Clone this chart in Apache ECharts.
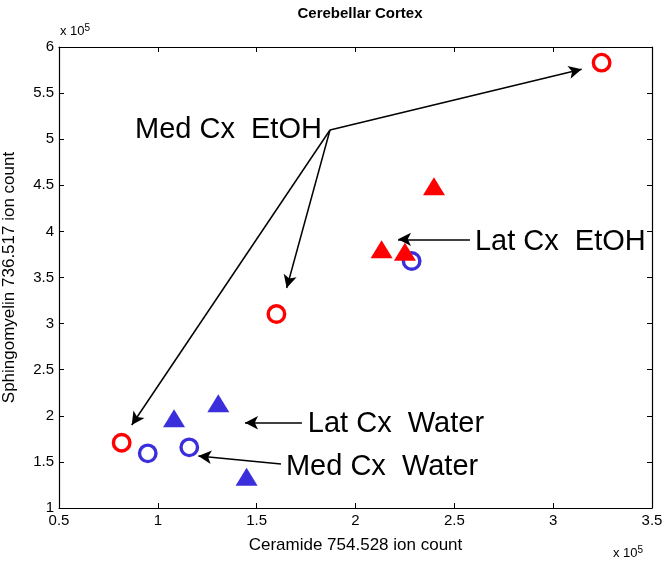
<!DOCTYPE html>
<html><head><meta charset="utf-8">
<script src="https://cdn.jsdelivr.net/npm/echarts@6/dist/echarts.min.js"></script>
<style>html,body{margin:0;padding:0;background:#fff}#c{width:666px;height:565px}</style>
</head><body><div id="c"></div>
<script>
// Data (ion counts)
const medEtohX = [324500, 160000, 81700];
const medEtohY = [583000, 310400, 170800];
const latEtohX = [239700, 213200, 225000];
const latEtohY = [449000, 380600, 378000];
const medWaterX = [94900, 115900, 228400];
const medWaterY = [159300, 165800, 367900];
const latWaterX = [108200, 130600, 144900];
const latWaterY = [197300, 213500, 134000];
const xTicks = [0.5, 1, 1.5, 2, 2.5, 3, 3.5];
const yTicks = [1, 1.5, 2, 2.5, 3, 3.5, 4, 4.5, 5, 5.5, 6];

// Annotation anchors in data units
const hub = [187100, 510000];
const medEtohTips = [[314400, 575800], [165200, 338600], [86800, 190000]];
const latEtohArrow = [[257900, 391400], [221500, 391400]];
const latWaterArrow = [[172900, 192500], [144100, 192500]];
const medWaterArrow = [[162300, 147700], [120500, 156400]];
const labels = [
  {text: 'Med Cx  EtOH', at: [183000, 510000], align: 'right'},
  {text: 'Lat Cx  EtOH', at: [260400, 388500], align: 'left'},
  {text: 'Lat Cx  Water', at: [175900, 191500], align: 'left'},
  {text: 'Med Cx  Water', at: [164800, 144500], align: 'left'}
];

const RED = '#ff0000', BLUE = '#3b2fdc';
const F = 'Liberation Sans';
const zip = (a, b) => a.map((v, i) => [v, b[i]]);

const arrowLines = [];
medEtohTips.forEach(t => arrowLines.push([{coord: hub}, {coord: t}]));
[latEtohArrow, latWaterArrow, medWaterArrow].forEach(a => arrowLines.push([{coord: a[0]}, {coord: a[1]}]));

const axBase = {
  interval: 50000,
  axisLine: {show: true, onZero: false, lineStyle: {color: '#000', width: 1.2}},
  axisTick: {show: true, inside: true, length: 5, lineStyle: {color: '#000'}},
  splitLine: {show: false}
};

const chart = echarts.init(document.getElementById('c'), null, {renderer: 'canvas'});
const option = {
  animation: false,
  backgroundColor: '#fff',
  title: {text: 'Cerebellar Cortex', left: 355, textAlign: 'center', top: 1,
    textStyle: {fontFamily: F, fontSize: 15, fontWeight: 'bold', color: '#000'}},
  grid: {left: 59, right: 14, top: 47, bottom: 57, containLabel: false, outerBoundsMode: 'none'},
  xAxis: [
    Object.assign({}, axBase, {type: 'value', min: 50000, max: 350000, position: 'bottom',
      name: 'Ceramide 754.528 ion count', nameLocation: 'middle', nameGap: 29,
      nameTextStyle: {fontFamily: F, fontSize: 17, color: '#000'},
      axisLabel: {fontFamily: F, fontSize: 15, color: '#000', margin: 5,
        formatter: v => xTicks.includes(v / 1e5) ? String(v / 1e5) : ''}}),
    Object.assign({}, axBase, {type: 'value', min: 50000, max: 350000, position: 'top',
      axisLabel: {show: false}})
  ],
  yAxis: [
    Object.assign({}, axBase, {type: 'value', min: 100000, max: 600000, position: 'left',
      name: 'Sphingomyelin 736.517 ion count', nameLocation: 'middle', nameGap: 41,
      nameTextStyle: {fontFamily: F, fontSize: 17, color: '#000'},
      axisLabel: {fontFamily: F, fontSize: 15, color: '#000', margin: 5,
        formatter: v => yTicks.includes(v / 1e5) ? String(v / 1e5) : ''}}),
    Object.assign({}, axBase, {type: 'value', min: 100000, max: 600000, position: 'right',
      axisLabel: {show: false}})
  ],
  series: [
    {name: 'Med Cx Water', type: 'scatter', data: zip(medWaterX, medWaterY),
      symbol: 'circle', symbolSize: 16.5,
      itemStyle: {color: '#fff', borderColor: BLUE, borderWidth: 3.4, opacity: 1}},
    {name: 'Lat Cx Water', type: 'scatter', data: zip(latWaterX, latWaterY),
      symbol: 'triangle', symbolSize: [22, 18], itemStyle: {color: BLUE, opacity: 1}},
    {name: 'Med Cx EtOH', type: 'scatter', data: zip(medEtohX, medEtohY),
      symbol: 'circle', symbolSize: 16.5,
      itemStyle: {color: '#fff', borderColor: RED, borderWidth: 3.4, opacity: 1}},
    {name: 'Lat Cx EtOH', type: 'scatter', data: zip(latEtohX, latEtohY),
      symbol: 'triangle', symbolSize: [22, 18], itemStyle: {color: RED, opacity: 1},
      markLine: {silent: true, symbol: ['none', 'arrow'], symbolSize: [10, 13], precision: 6,
        label: {show: false}, lineStyle: {color: '#000', width: 1.5, type: 'solid'},
        emphasis: {disabled: true}, data: arrowLines}}
  ]
};
chart.setOption(option);

const g = [];
labels.forEach(l => {
  const p = chart.convertToPixel({xAxisIndex: 0, yAxisIndex: 0}, l.at);
  g.push({type: 'text', x: p[0], y: p[1], style: {text: l.text, fill: '#000',
    font: '29px "Liberation Sans"', textAlign: l.align, textVerticalAlign: 'middle'}});
});
const sup = {rich: {a: {fontFamily: F, fontSize: 13, fill: '#000'}, s: {fontFamily: F, fontSize: 10, fill: '#000', padding: [0,0,7,0]}}, text: '{a|x 10}{s|5}'};
g.push({type: 'text', left: 60, top: 23, style: Object.assign({}, sup)});
g.push({type: 'text', left: 613, top: 545, style: Object.assign({}, sup)});
chart.setOption({graphic: g});
</script></body></html>
